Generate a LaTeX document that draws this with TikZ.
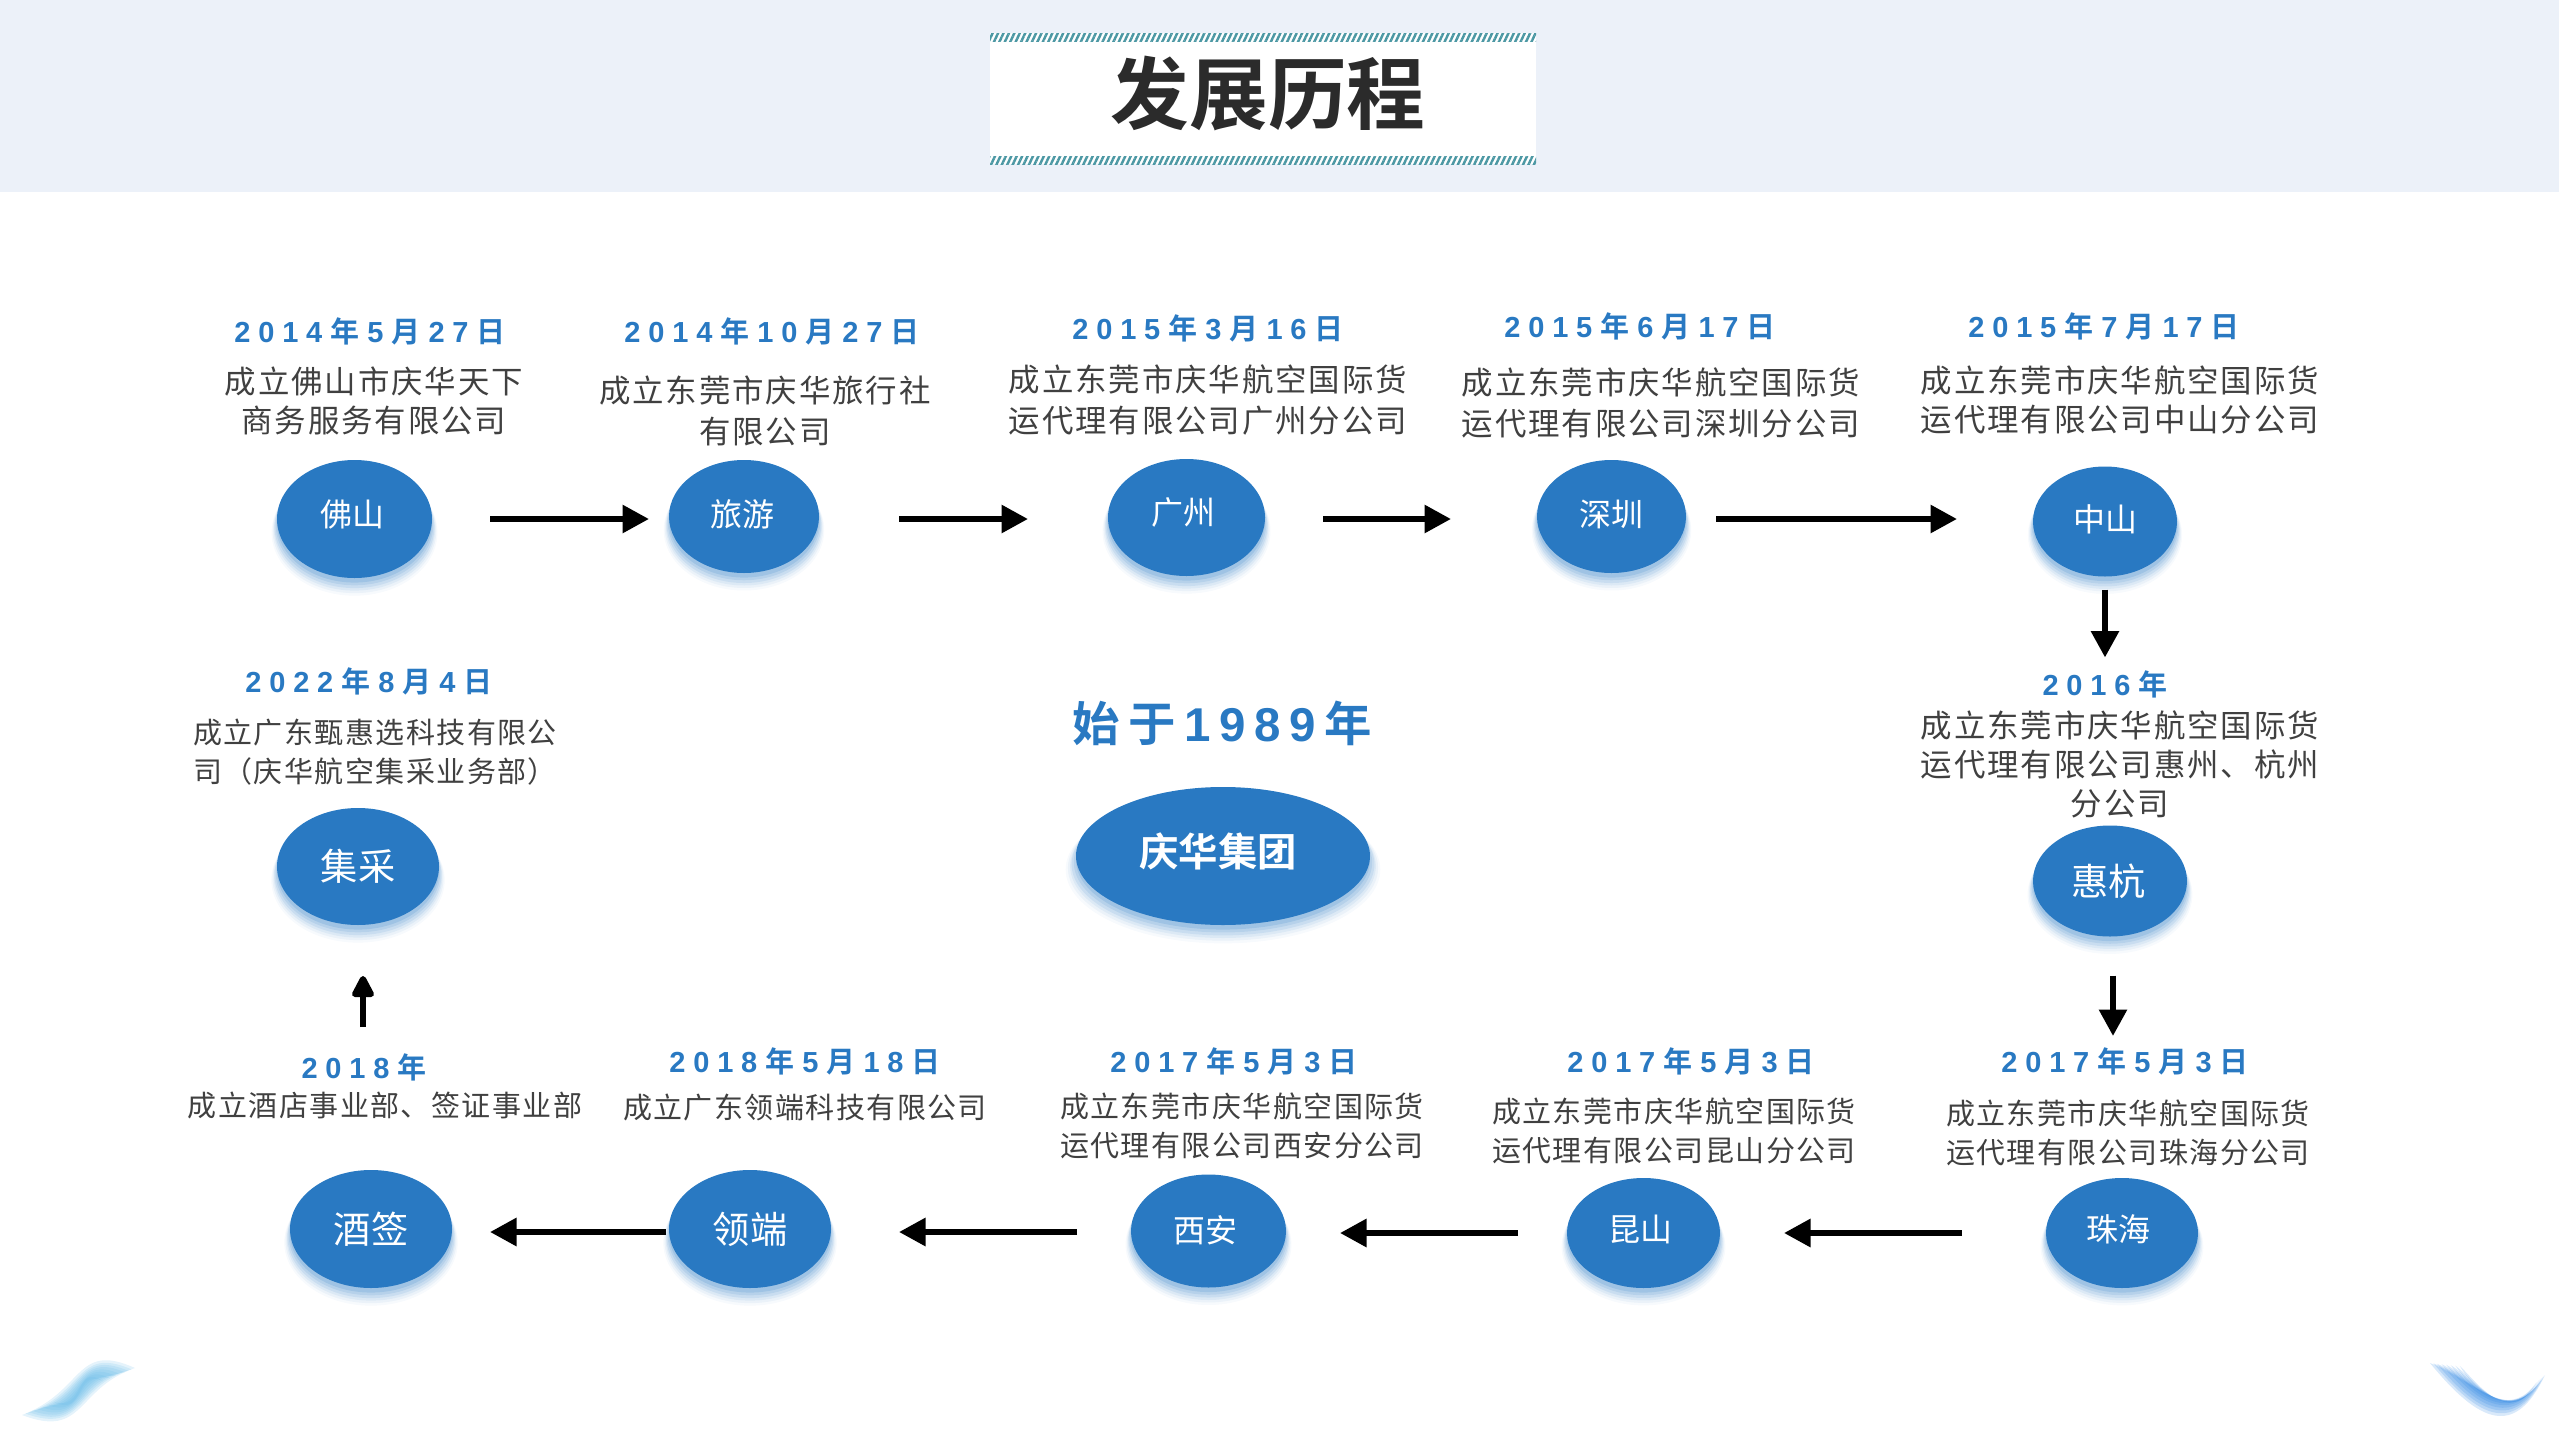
\documentclass[tikz,border=0pt]{standalone}
\usepackage{fontspec}
\usetikzlibrary{shapes.geometric,arrows.meta,shadows,patterns.meta}
\setmainfont{Noto Sans CJK SC}
\newfontfamily\descfont[LetterSpace=6]{Noto Sans CJK SC}
\newfontfamily\smallfont[LetterSpace=5]{Noto Sans CJK SC}
\newfontfamily\bubblefont{Noto Sans CJK SC}
\newfontfamily\boldfont{Noto Sans CJK SC Bold}
\newfontfamily\datefont[LetterSpace=27]{Noto Sans CJK SC Bold}
\newfontfamily\digitfont[LetterSpace=27]{Liberation Sans Bold}
\newfontfamily\headfont[LetterSpace=18]{Noto Sans CJK SC Bold}
\newfontfamily\headdigit[LetterSpace=18]{Liberation Sans Bold}
\newcommand{\gap}{\kern.08cm}
\newcommand{\yr}[1]{{\digitfont #1}\gap 年}
\newcommand{\ymd}[3]{\yr{#1}\gap{\digitfont #2}\gap 月\gap{\digitfont #3}\gap 日}
\newcommand{\nudge}[3]{\kern#1\raisebox{#2}{#3}}
\definecolor{qhblue}{HTML}{2979C2}
\definecolor{bandblue}{HTML}{ECF1F9}
\definecolor{hatch}{HTML}{4C98A4}
\definecolor{wave}{HTML}{5DB6E6}
\definecolor{waveb}{HTML}{1C7CE0}
\tikzset{
  softshadow/.style args={#1/#2/#3}{general shadow={shadow xshift=0pt,shadow yshift=#1,shadow scale=#2,draw=none,fill=qhblue,opacity=#3}},
  bubble/.style={ellipse,inner sep=0pt,outer sep=0pt,fill=qhblue,text=white,
    softshadow=-3.6pt/1.07/.04,softshadow=-3.2pt/1.055/.06,softshadow=-2.8pt/1.04/.08,
    softshadow=-2.3pt/1.03/.1,softshadow=-1.8pt/1.015/.12,softshadow=-1.3pt/1/.16,
    font=\bubblefont\fontsize{9.1}{11}\selectfont},
  bigbubble/.style={bubble,font=\bubblefont\fontsize{10.6}{13}\selectfont},
  datestyle/.style={text=qhblue,font=\datefont\fontsize{8.25}{10}\selectfont},
  desc/.style={text=black!75,align=center,font=\descfont\fontsize{8.95}{11.1}\selectfont},
  descsmall/.style={text=black!75,align=center,font=\smallfont\fontsize{8.25}{11.1}\selectfont},
  flow/.style={line width=.06cm,-{Triangle[length=.265cm,width=.27cm]}},
  flowup/.style={line width=.06cm,-{Triangle[length=.25cm,width=.24cm,round]}},
}
\begin{document}
\begin{tikzpicture}[x=1cm,y=-1cm]
  \useasboundingbox (0,0) rectangle (25.59,14.40);
  \fill[bandblue] (0,0) rectangle (25.59,1.92);
  \fill[white] (9.90,0.33) rectangle (15.36,1.64);
  \fill[pattern={Lines[angle=65,distance=1.4pt,line width=.7pt]},pattern color=hatch] (9.90,0.33) rectangle (15.36,0.41);
  \fill[pattern={Lines[angle=65,distance=1.4pt,line width=.7pt]},pattern color=hatch] (9.90,1.56) rectangle (15.36,1.64);
  \node[text=black!83,font=\boldfont\fontsize{22.4}{26}\selectfont] (title) at (12.68,0.94) {发展历程};

  \foreach \w/\t in {.24/0,.20/.03,.17/.06,.14/.09,.11/.13,.08/.17,.05/.22,.03/.28}
    \fill[wave,opacity=.16] ({0.22+1.13*\t},{14.15-.47*\t}) .. controls (0.85,14.15-\w) and (0.75,13.65-\w) .. ({1.35-1.13*\t},{13.68+.47*\t})
      .. controls (0.75,13.65+\w) and (0.85,14.15+\w) .. ({0.22+1.13*\t},{14.15-.47*\t}) -- cycle;
  \foreach \w/\t in {.26/0,.22/.03,.18/.06,.14/.1,.10/.14,.07/.18,.04/.22,.02/.26}
    \fill[waveb,opacity=.17] ({24.30+1.15*\t},{13.63+.12*\t}) .. controls (24.75,13.80) and (25.10,14.30) .. ({25.45-1.15*\t*.3},{13.75+.3*\t})
      .. controls (25.15,14.12+\w) and (24.80,13.98+\w) .. ({24.30+1.15*\t},{13.63+.12*\t}) -- cycle;

  \node[bubble,minimum width=1.55cm,minimum height=1.18cm] (foshan) at (3.545,5.19) {\nudge{-1.4pt}{3.2pt}{佛山}};
  \node[bubble,minimum width=1.50cm,minimum height=1.13cm] (lvyou) at (7.44,5.165) {\nudge{-.9pt}{1.8pt}{旅游}};
  \node[bubble,minimum width=1.57cm,minimum height=1.17cm] (guangzhou) at (11.865,5.175) {\nudge{-1.9pt}{3.7pt}{广州}};
  \node[bubble,minimum width=1.49cm,minimum height=1.13cm] (shenzhen) at (16.115,5.165) {\nudge{0pt}{1.8pt}{深圳}};
  \node[bubble,minimum width=1.44cm,minimum height=1.10cm] (zhongshan) at (21.05,5.215) {\nudge{0pt}{1.8pt}{中山}};
  \node[bigbubble,minimum width=1.54cm,minimum height=1.11cm] (huihang) at (21.10,8.81) {\nudge{-.9pt}{0pt}{惠杭}};
  \node[bubble,minimum width=1.52cm,minimum height=1.10cm] (zhuhai) at (21.22,12.33) {\nudge{-1.9pt}{2.8pt}{珠海}};
  \node[bubble,minimum width=1.53cm,minimum height=1.10cm] (kunshan) at (16.435,12.33) {\nudge{-1.9pt}{2.8pt}{昆山}};
  \node[bubble,minimum width=1.55cm,minimum height=1.13cm] (xian) at (12.085,12.31) {\nudge{-1.9pt}{.9pt}{西安}};
  \node[bigbubble,minimum width=1.62cm,minimum height=1.18cm] (lingduan) at (7.50,12.29) {\nudge{0pt}{.9pt}{领端}};
  \node[bigbubble,minimum width=1.62cm,minimum height=1.18cm] (jiuqian) at (3.71,12.29) {\nudge{0pt}{.9pt}{酒签}};
  \node[bigbubble,minimum width=1.62cm,minimum height=1.17cm] (jicai) at (3.58,8.665) {集采};
  \node[bubble,minimum width=2.94cm,minimum height=1.38cm,font=\boldfont\fontsize{11.2}{13}\selectfont] (group) at (12.23,8.56) {\nudge{-2.8pt}{3.7pt}{庆华集团}};
  \node[text=qhblue,font=\headfont\fontsize{13.5}{16}\selectfont] (since) at (12.22,7.23) {始于\kern.085cm{\headdigit 1989}\kern.085cm 年};

  \node[datestyle] (foshandate) at (3.70,3.31) {\ymd{2014}{5}{27}};
  \node[desc] (foshantext) at (3.74,4.01) {成立佛山市庆华天下\\商务服务有限公司};
  \node[datestyle] (lvyoudate) at (7.72,3.31) {\ymd{2014}{10}{27}};
  \node[desc] (lvyoutext) at (7.65,4.11) {成立东莞市庆华旅行社\\[.8pt]有限公司};
  \node[datestyle] (guangzhoudate) at (12.08,3.28) {\ymd{2015}{3}{16}};
  \node[desc] (guangzhoutext) at (12.08,4.00) {成立东莞市庆华航空国际货\\[.8pt]运代理有限公司广州分公司};
  \node[datestyle] (shenzhendate) at (16.40,3.26) {\ymd{2015}{6}{17}};
  \node[desc] (shenzhentext) at (16.61,4.03) {成立东莞市庆华航空国际货\\[.8pt]运代理有限公司深圳分公司};
  \node[datestyle] (zhongshandate) at (21.04,3.26) {\ymd{2015}{7}{17}};
  \node[desc] (zhongshantext) at (21.20,4.00) {成立东莞市庆华航空国际货\\运代理有限公司中山分公司};
  \node[datestyle] (huihangdate) at (21.05,6.84) {\yr{2016}};
  \node[desc] (huihangtext) at (21.20,7.64) {成立东莞市庆华航空国际货\\运代理有限公司惠州、杭州\\分公司};
  \node[datestyle] (zhuhaidate) at (21.25,10.61) {\ymd{2017}{5}{3}};
  \node[descsmall] (zhuhaitext) at (21.28,11.33) {成立东莞市庆华航空国际货\\运代理有限公司珠海分公司};
  \node[datestyle] (kunshandate) at (16.91,10.61) {\ymd{2017}{5}{3}};
  \node[descsmall] (kunshantext) at (16.74,11.31) {成立东莞市庆华航空国际货\\运代理有限公司昆山分公司};
  \node[datestyle] (xiandate) at (12.34,10.61) {\ymd{2017}{5}{3}};
  \node[descsmall] (xiantext) at (12.42,11.26) {成立东莞市庆华航空国际货\\运代理有限公司西安分公司};
  \node[datestyle] (lingduandate) at (8.05,10.61) {\ymd{2018}{5}{18}};
  \node[descsmall] (lingduantext) at (8.05,11.08) {成立广东领端科技有限公司};
  \node[datestyle] (jiuqiandate) at (3.64,10.67) {\yr{2018}};
  \node[descsmall] (jiuqiantext) at (3.85,11.05) {成立酒店事业部、签证事业部};
  \node[datestyle] (jicaidate) at (3.69,6.81) {\ymd{2022}{8}{4}};
  \node[descsmall] (jicaitext) at (3.75,7.52) {成立广东甄惠选科技有限公\\司（庆华航空集采业务部）};

  \draw[flow,shorten <=.58cm,shorten >=.20cm] (foshan.east) -- (foshan.east -| lvyou.west);
  \draw[flow,shorten <=.80cm,shorten >=.80cm] ([yshift=-.025cm]lvyou.east) -- ([yshift=-.025cm]lvyou.east -| guangzhou.west);
  \draw[flow,shorten <=.58cm,shorten >=.86cm] ([yshift=-.015cm]guangzhou.east) -- ([yshift=-.015cm]guangzhou.east -| shenzhen.west);
  \draw[flow,shorten <=.30cm,shorten >=.76cm] ([yshift=-.025cm]shenzhen.east) -- ([yshift=-.025cm]shenzhen.east -| zhongshan.west);
  \draw[flow,shorten <=.13cm,shorten >=1.68cm] (zhongshan.south) -- (zhongshan.south |- huihang.north);
  \draw[flow,shorten <=.39cm,shorten >=1.42cm] ([xshift=.03cm]huihang.south) -- ([xshift=.03cm]huihang.south |- zhuhai.north);
  \draw[flow,shorten <=.84cm,shorten >=.64cm] (zhuhai.west) -- (zhuhai.west -| kunshan.east);
  \draw[flow,shorten <=.49cm,shorten >=.54cm] (kunshan.west) -- (kunshan.west -| xian.east);
  \draw[flow,shorten <=.54cm,shorten >=.68cm] ([yshift=-.01cm]xian.west) -- ([yshift=-.01cm]xian.west -| lingduan.east);
  \draw[flow,shorten <=.03cm,shorten >=.38cm] ([yshift=-.03cm]lingduan.west) -- ([yshift=-.03cm]lingduan.west -| jiuqian.east);
  \draw[flowup,shorten <=1.43cm,shorten >=.51cm] ([xshift=-.08cm]jiuqian.north) -- ([xshift=-.08cm]jiuqian.north |- jicai.south);
\end{tikzpicture}
\end{document}
